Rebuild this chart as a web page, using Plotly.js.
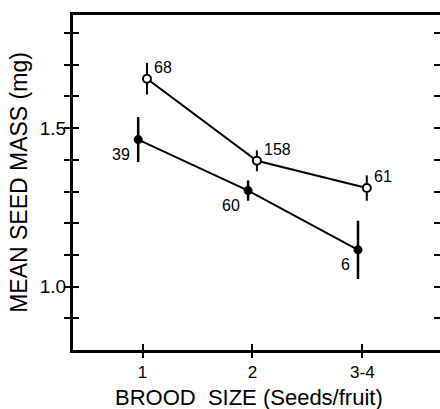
<!DOCTYPE html>
<html>
<head>
<meta charset="utf-8">
<script src="https://cdn.plot.ly/plotly-3.0.1.min.js"></script>
<style>html,body{margin:0;padding:0;background:#fff}#chart{width:440px;height:409px}</style>
</head>
<body>
<div id="chart"></div>
<script>
// Categories (brood size)
var categories = ["1", "2", "3-4"];
// Open-circle series: mean seed mass, error half-width, sample sizes
var openMean = [1.656, 1.397, 1.311];
var openErr = [0.05, 0.033, 0.04];
var openN = ["68", "158", "61"];
// Filled-circle series
var filledMean = [1.464, 1.303, 1.116];
var filledErr = [0.071, 0.032, 0.092];
var filledN = ["39", "60", "6"];
// y tick labels
var yTickVals = [0.9, 1.0, 1.1, 1.2, 1.3, 1.4, 1.5, 1.6, 1.7, 1.8];
var yTickText = ["", "1.0", "", "", "", "", "1.5", "", "", ""];
var xTitle = "BROOD\u00a0 SIZE (Seeds/fruit)";
var yTitle = "MEAN SEED MASS (mg)";

var catPos = categories.map(function (c, i) { return i + 1; });
var openX = catPos.map(function (p) { return p + 0.04; });
var filledX = catPos.map(function (p) { return p - 0.04; });

var FONT = "Liberation Sans, Arial, sans-serif";

var traces = [
  {
    x: openX, y: openMean, type: "scatter", mode: "lines+markers",
    line: {color: "#000", width: 2},
    marker: {symbol: "circle", size: 8, color: "#fff", line: {color: "#000", width: 2}},
    error_y: {type: "data", array: openErr, visible: true, color: "#000", thickness: 2, width: 0},
    showlegend: false, hoverinfo: "none"
  },
  {
    x: filledX, y: filledMean, type: "scatter", mode: "lines+markers",
    line: {color: "#000", width: 2},
    marker: {symbol: "circle", size: 9, color: "#000"},
    error_y: {type: "data", array: filledErr, visible: true, color: "#000", thickness: 2.5, width: 0},
    showlegend: false, hoverinfo: "none"
  },
  {
    x: [1], y: [1], xaxis: "x2", yaxis: "y", mode: "markers",
    marker: {opacity: 0}, showlegend: false, hoverinfo: "none"
  }
];

var annotations = [];
openN.forEach(function (t, i) {
  annotations.push({
    x: openX[i], y: openMean[i], text: t, showarrow: false,
    xanchor: "left", yanchor: "bottom", xshift: 5, yshift: 1,
    font: {family: FONT, size: 16, color: "#000"}
  });
});
filledN.forEach(function (t, i) {
  annotations.push({
    x: filledX[i], y: filledMean[i], text: t, showarrow: false,
    xanchor: "right", yanchor: "top", xshift: -6, yshift: -4,
    font: {family: FONT, size: 16, color: "#000"}
  });
});
annotations.push({
  xref: "paper", yref: "paper", x: 0.48, y: -0.143,
  xanchor: "center", yanchor: "middle", showarrow: false,
  text: xTitle, font: {family: FONT, size: 22, color: "#000"}
});

var xRange = [0.367, 3.706];
var layout = {
  width: 440, height: 409,
  margin: {l: 73, r: 0, t: 15, b: 59},
  paper_bgcolor: "#fff", plot_bgcolor: "#fff",
  font: {family: FONT, color: "#000"},
  xaxis: {
    range: xRange, tickvals: catPos, ticktext: categories,
    ticks: "outside", ticklen: 5, tickwidth: 2, tickcolor: "#000",
    showline: true, linewidth: 3, linecolor: "#000", mirror: true,
    showgrid: false, zeroline: false,
    tickfont: {size: 17, family: FONT}
  },
  xaxis2: {
    overlaying: "x", range: xRange, tickvals: catPos, showticklabels: false,
    ticks: "inside", ticklen: 6, tickwidth: 2, tickcolor: "#000",
    showline: false, showgrid: false, zeroline: false, side: "bottom"
  },
  yaxis: {
    range: [0.8, 1.857], tickvals: yTickVals, ticktext: yTickText,
    ticks: "inside", ticklen: 6, tickwidth: 2, tickcolor: "#000",
    showline: true, linewidth: 3, linecolor: "#000", mirror: "allticks",
    showgrid: false, zeroline: false,
    tickfont: {size: 19, family: FONT},
    title: {text: yTitle, font: {size: 23, family: FONT}, standoff: 6}
  },
  annotations: annotations
};

Plotly.newPlot("chart", traces, layout, {displayModeBar: false, staticPlot: true});
</script>
</body>
</html>
